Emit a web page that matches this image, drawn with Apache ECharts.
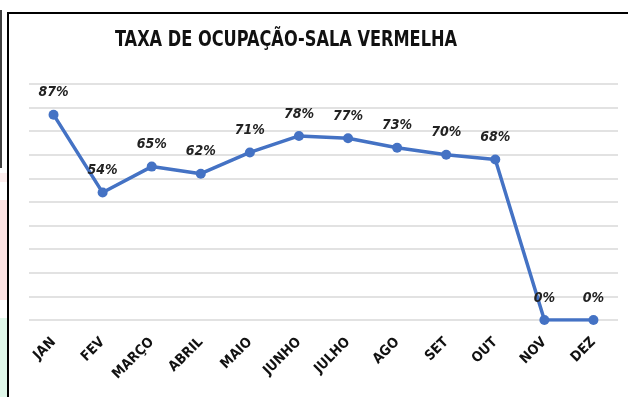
<!DOCTYPE html>
<html>
<head>
<meta charset="utf-8">
<script src="https://cdn.jsdelivr.net/npm/echarts@6/dist/echarts.min.js"></script>
<style>
  html, body { margin: 0; padding: 0; background: #fff; }
  #chart { width: 628px; height: 397px; }
</style>
</head>
<body>
<div id="chart"></div>
<script>
// Monthly occupancy rate of the red room (percent)
const months = ['JAN', 'FEV', 'MARÇO', 'ABRIL', 'MAIO', 'JUNHO', 'JULHO', 'AGO', 'SET', 'OUT', 'NOV', 'DEZ'];
const occupancy = [87, 54, 65, 62, 71, 78, 77, 73, 70, 68, 0, 0];
const chartTitle = 'TAXA DE OCUPAÇÃO-SALA VERMELHA';

const FONT = '"DejaVu Sans Condensed", "Open Sans", sans-serif';
const chart = echarts.init(document.getElementById('chart'), null, { renderer: 'canvas' });

chart.setOption({
  backgroundColor: '#ffffff',
  animation: false,
  graphic: [
    // strips along the left edge
    { type: 'rect', shape: { x: 0, y: 173, width: 7, height: 9 }, style: { fill: '#fdeeee' }, silent: true },
    { type: 'rect', shape: { x: 0, y: 200, width: 7, height: 100 }, style: { fill: '#fde3e3' }, silent: true },
    { type: 'rect', shape: { x: 0, y: 318, width: 7, height: 79 }, style: { fill: '#e0f8ea' }, silent: true },
    { type: 'line', shape: { x1: 1, y1: 10, x2: 1, y2: 168 }, style: { stroke: '#000', lineWidth: 1.5 }, silent: true },
    // chart frame
    { type: 'rect', shape: { x: 8, y: 13, width: 640, height: 400 }, style: { fill: 'none', stroke: '#000', lineWidth: 2 }, silent: true },
    // title, slightly stretched vertically for a narrow look
    {
      type: 'text', x: 286, y: 41, scaleY: 1.15,
      style: {
        text: chartTitle, align: 'center', verticalAlign: 'middle',
        fontFamily: FONT, fontWeight: 'bold', fontSize: 18, fill: '#111111'
      },
      silent: true
    }
  ],
  grid: { left: 29, right: 10, top: 84, bottom: 77, containLabel: false },
  xAxis: {
    type: 'category',
    data: months,
    boundaryGap: true,
    axisLine: { show: false },
    axisTick: { show: false },
    axisLabel: {
      rotate: 45,
      margin: 20,
      interval: 0,
      fontFamily: FONT,
      fontWeight: 'bold',
      fontSize: 14,
      color: '#111111'
    }
  },
  yAxis: {
    type: 'value',
    min: 0,
    max: 100,
    interval: 10,
    axisLabel: { show: false },
    axisLine: { show: false },
    axisTick: { show: false },
    splitLine: { lineStyle: { color: '#d9d9d9', width: 1.5 } }
  },
  series: [{
    type: 'line',
    data: occupancy,
    color: '#4472C4',
    lineStyle: { width: 3.5, color: '#4472C4' },
    symbol: 'circle',
    symbolSize: 10,
    itemStyle: { color: '#4472C4' },
    label: {
      show: true,
      position: 'top',
      distance: 10,
      formatter: '{c}%',
      fontFamily: FONT,
      fontStyle: 'italic',
      fontWeight: 'bold',
      fontSize: 14,
      color: '#222222'
    }
  }]
});
</script>
</body>
</html>
